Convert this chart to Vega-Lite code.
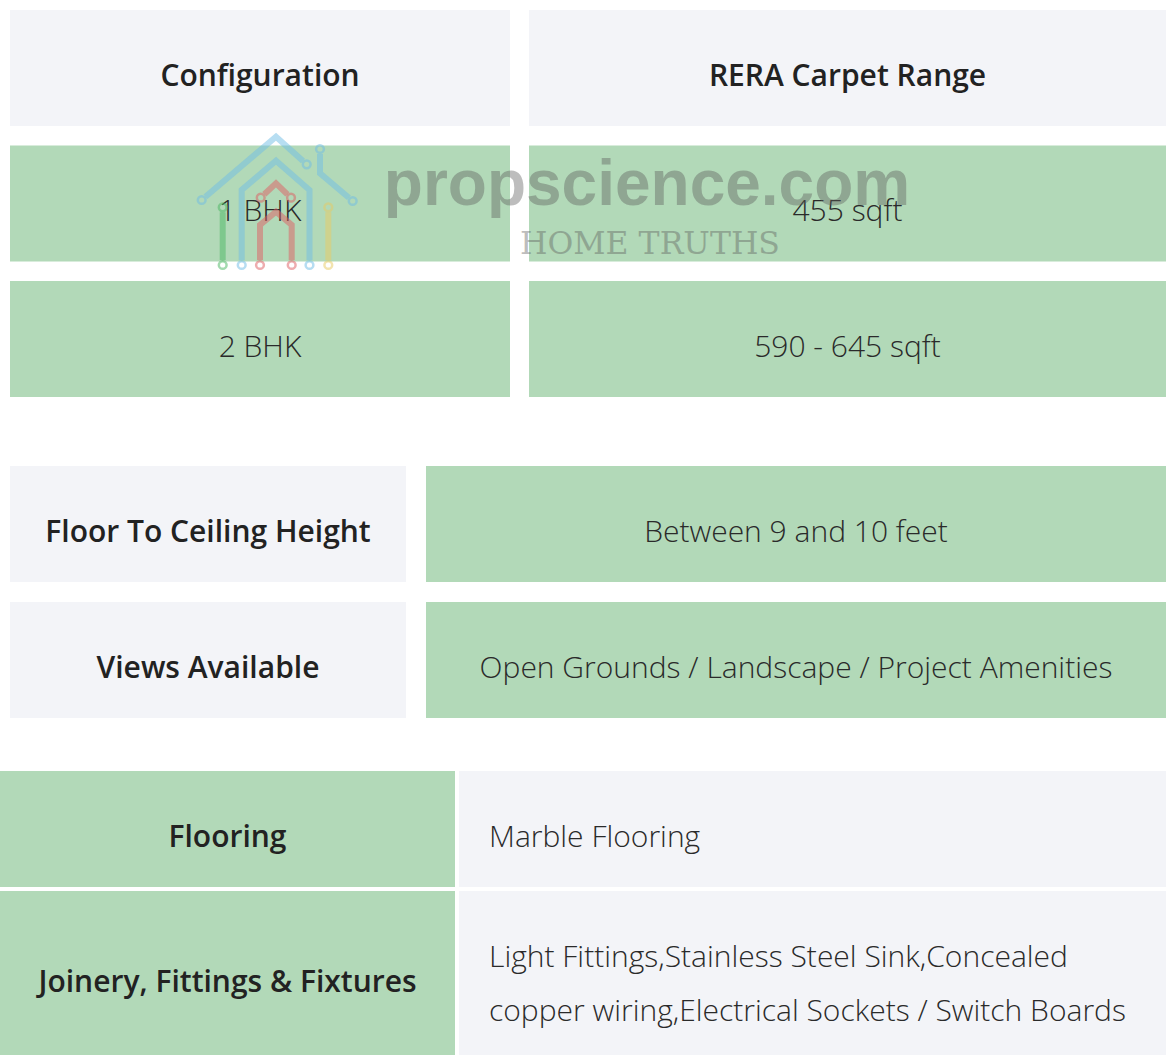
{
  "$schema": "https://vega.github.io/schema/vega-lite/v6.json",
  "padding": 0,
  "background": "white",
  "spacing": 0,
  "config": {"view": {"stroke": null}},
  "datasets": {
    "cells": [
      {"b": "s1", "side": "left", "row": "r0", "part": "head", "label": "Configuration"},
      {"b": "s1", "side": "right", "row": "r0", "part": "head", "label": "RERA Carpet Range"},
      {"b": "s1", "side": "left", "row": "r1", "part": "body", "label": "1 BHK"},
      {"b": "s1", "side": "right", "row": "r1", "part": "body", "label": "455 sqft"},
      {"b": "s1", "side": "left", "row": "r2", "part": "body", "label": "2 BHK"},
      {"b": "s1", "side": "right", "row": "r2", "part": "body", "label": "590 - 645 sqft"},
      {"b": "s2", "side": "left", "row": "r0", "part": "head", "label": "Floor To Ceiling Height"},
      {"b": "s2", "side": "right", "row": "r0", "part": "body", "label": "Between 9 and 10 feet"},
      {"b": "s2", "side": "left", "row": "r1", "part": "head", "label": "Views Available"},
      {"b": "s2", "side": "right", "row": "r1", "part": "body", "label": "Open Grounds / Landscape / Project Amenities"},
      {"b": "s3a", "side": "left", "row": "r0", "part": "head", "label": "Flooring"},
      {"b": "s3a", "side": "right", "row": "r0", "part": "body", "label": "Marble Flooring"},
      {"b": "s3b", "side": "left", "row": "r0", "part": "head", "label": "Joinery, Fittings & Fixtures"},
      {"b": "s3b", "side": "right", "row": "r0", "part": "body", "label": "Light Fittings,Stainless Steel Sink,Concealed\ncopper wiring,Electrical Sockets / Switch Boards"}
    ],
    "logoPaths": [
      {"strand": "roof", "k": 0, "u": 205.5, "v": 196.8},
      {"strand": "roof", "k": 1, "u": 276, "v": 136.7},
      {"strand": "roof", "k": 2, "u": 303, "v": 161},
      {"strand": "branch", "k": 0, "u": 320, "v": 154},
      {"strand": "branch", "k": 1, "u": 320, "v": 173.3},
      {"strand": "branch", "k": 2, "u": 348.9, "v": 197.8},
      {"strand": "wall", "k": 0, "u": 241.7, "v": 260},
      {"strand": "wall", "k": 1, "u": 241.7, "v": 190},
      {"strand": "wall", "k": 2, "u": 276, "v": 160.7},
      {"strand": "wall", "k": 3, "u": 309.5, "v": 190},
      {"strand": "wall", "k": 4, "u": 309.5, "v": 260},
      {"strand": "door", "k": 0, "u": 260, "v": 260},
      {"strand": "door", "k": 1, "u": 260, "v": 225},
      {"strand": "door", "k": 2, "u": 276, "v": 211.7},
      {"strand": "door", "k": 3, "u": 291.7, "v": 225},
      {"strand": "door", "k": 4, "u": 291.7, "v": 260},
      {"strand": "gable", "k": 0, "u": 264.3, "v": 194.3},
      {"strand": "gable", "k": 1, "u": 276, "v": 183.3},
      {"strand": "gable", "k": 2, "u": 287.4, "v": 194.3},
      {"strand": "leftpost", "k": 0, "u": 222.7, "v": 212.3},
      {"strand": "leftpost", "k": 1, "u": 222.7, "v": 260},
      {"strand": "rightpost", "k": 0, "u": 328.3, "v": 212.3},
      {"strand": "rightpost", "k": 1, "u": 328.3, "v": 260}
    ],
    "logoRings": [
      {"strand": "roof", "u": 201.7, "v": 200},
      {"strand": "roof", "u": 306.7, "v": 164.3},
      {"strand": "branch", "u": 320, "v": 149},
      {"strand": "branch", "u": 352.7, "v": 201},
      {"strand": "wall", "u": 241.7, "v": 265},
      {"strand": "wall", "u": 309.5, "v": 265},
      {"strand": "door", "u": 260, "v": 265},
      {"strand": "door", "u": 291.7, "v": 265},
      {"strand": "gable", "u": 260.7, "v": 197.7},
      {"strand": "gable", "u": 291, "v": 197.7},
      {"strand": "leftpost", "u": 222.7, "v": 207.3},
      {"strand": "leftpost", "u": 222.7, "v": 265},
      {"strand": "rightpost", "u": 328.3, "v": 207.3},
      {"strand": "rightpost", "u": 328.3, "v": 265}
    ],
    "stamp": [
      {"id": "brand", "label": "propscience.com", "u": 647, "v": 205},
      {"id": "tagline", "label": "HOME TRUTHS", "u": 650, "v": 254}
    ]
  },
  "vconcat": [
    {
      "bounds": "flush",
      "spacing": 19,
      "hconcat": [
        {
          "width": 510,
          "height": 397,
          "data": {"name": "cells"},
          "transform": [{"filter": "datum.b === 's1' && datum.side === 'left'"}],
          "encoding": {
            "x": {"field": "side", "type": "nominal", "axis": null, "scale": {"type": "band", "domain": ["left"], "paddingInner": 0, "paddingOuter": 0.01, "align": 1}},
            "y": {"field": "row", "type": "nominal", "axis": null, "scale": {"type": "band", "domain": ["r0", "r1", "r2"], "paddingInner": 0.1439, "paddingOuter": 0.0369, "align": 1}}
          },
          "layer": [
            {"mark": {"type": "rect"}, "encoding": {"color": {"condition": {"test": "datum.part === 'head'", "value": "#f3f4f8"}, "value": "#b2d9b8"}}},
            {"transform": [{"filter": "datum.part === 'head'"}], "mark": {"type": "text", "font": "Open Sans", "fontSize": 30, "fontWeight": 600, "color": "#222222", "baseline": "alphabetic", "dy": 18}, "encoding": {"text": {"field": "label"}}},
            {"transform": [{"filter": "datum.part === 'body'"}], "mark": {"type": "text", "font": "Open Sans", "fontSize": 30, "fontWeight": 300, "color": "#2a2a2a", "baseline": "alphabetic", "dy": 18}, "encoding": {"text": {"field": "label"}}}
          ]
        },
        {
          "width": 637,
          "height": 397,
          "layer": [
            {
              "data": {"name": "cells"},
              "transform": [{"filter": "datum.b === 's1' && datum.side === 'right'"}],
              "encoding": {
                "x": {"field": "side", "type": "nominal", "axis": null, "scale": {"type": "band", "domain": ["right"], "paddingInner": 0, "paddingOuter": 0}},
                "y": {"field": "row", "type": "nominal", "axis": null, "scale": {"type": "band", "domain": ["r0", "r1", "r2"], "paddingInner": 0.1439, "paddingOuter": 0.0369, "align": 1}}
              },
              "layer": [
                {"mark": {"type": "rect"}, "encoding": {"color": {"condition": {"test": "datum.part === 'head'", "value": "#f3f4f8"}, "value": "#b2d9b8"}}},
                {"transform": [{"filter": "datum.part === 'head'"}], "mark": {"type": "text", "font": "Open Sans", "fontSize": 30, "fontWeight": 600, "color": "#222222", "baseline": "alphabetic", "dy": 18}, "encoding": {"text": {"field": "label"}}},
                {"transform": [{"filter": "datum.part === 'body'"}], "mark": {"type": "text", "font": "Open Sans", "fontSize": 30, "fontWeight": 300, "color": "#2a2a2a", "baseline": "alphabetic", "dy": 18}, "encoding": {"text": {"field": "label"}}}
              ]
            },
            {
              "data": {"name": "logoPaths"},
              "mark": {"type": "line", "strokeWidth": 6, "opacity": 0.5, "strokeCap": "butt", "strokeJoin": "miter"},
              "encoding": {
                "x": {"field": "u", "type": "quantitative", "axis": null, "scale": {"domain": [529, 1166], "nice": false, "zero": false}},
                "y": {"field": "v", "type": "quantitative", "axis": null, "scale": {"domain": [0, 397], "nice": false, "zero": false, "reverse": true}},
                "order": {"field": "k", "type": "quantitative"},
                "color": {"field": "strand", "type": "nominal", "legend": null, "scale": {"domain": ["roof", "branch", "wall", "door", "gable", "leftpost", "rightpost"], "range": ["#6fbde6", "#6fbde6", "#6fbde6", "#df5d61", "#df5d61", "#49b761", "#e9cb61"]}}
              }
            },
            {
              "data": {"name": "logoRings"},
              "mark": {"type": "point", "shape": "circle", "filled": false, "size": 60, "strokeWidth": 2.5, "opacity": 0.5},
              "encoding": {
                "x": {"field": "u", "type": "quantitative", "axis": null, "scale": {"domain": [529, 1166], "nice": false, "zero": false}},
                "y": {"field": "v", "type": "quantitative", "axis": null, "scale": {"domain": [0, 397], "nice": false, "zero": false, "reverse": true}},
                "color": {"field": "strand", "type": "nominal", "legend": null, "scale": {"domain": ["roof", "branch", "wall", "door", "gable", "leftpost", "rightpost"], "range": ["#6fbde6", "#6fbde6", "#6fbde6", "#df5d61", "#df5d61", "#49b761", "#e9cb61"]}}
              }
            },
            {
              "data": {"name": "stamp"},
              "transform": [{"filter": "datum.id === 'brand'"}],
              "mark": {"type": "text", "font": "Liberation Sans", "fontSize": 64, "fontWeight": "bold", "color": "#5c5c5c", "opacity": 0.4, "align": "center", "baseline": "alphabetic"},
              "encoding": {
                "x": {"field": "u", "type": "quantitative", "axis": null, "scale": {"domain": [529, 1166], "nice": false, "zero": false}},
                "y": {"field": "v", "type": "quantitative", "axis": null, "scale": {"domain": [0, 397], "nice": false, "zero": false, "reverse": true}},
                "text": {"field": "label"}
              }
            },
            {
              "data": {"name": "stamp"},
              "transform": [{"filter": "datum.id === 'tagline'"}],
              "mark": {"type": "text", "font": "DejaVu Serif", "fontSize": 31.5, "color": "#5c5c5c", "opacity": 0.4, "align": "center", "baseline": "alphabetic"},
              "encoding": {
                "x": {"field": "u", "type": "quantitative", "axis": null, "scale": {"domain": [529, 1166], "nice": false, "zero": false}},
                "y": {"field": "v", "type": "quantitative", "axis": null, "scale": {"domain": [0, 397], "nice": false, "zero": false, "reverse": true}},
                "text": {"field": "label"}
              }
            }
          ],
          "resolve": {"scale": {"x": "independent", "y": "independent", "color": "independent"}}
        }
      ]
    },
    {
      "bounds": "flush",
      "spacing": 20,
      "hconcat": [
        {
          "width": 406,
          "height": 321,
          "data": {"name": "cells"},
          "transform": [{"filter": "datum.b === 's2' && datum.side === 'left'"}],
          "encoding": {
            "x": {"field": "side", "type": "nominal", "axis": null, "scale": {"type": "band", "domain": ["left"], "paddingInner": 0, "paddingOuter": 0.012626, "align": 1}},
            "y": {"field": "row", "type": "nominal", "axis": null, "scale": {"type": "band", "domain": ["r0", "r1"], "paddingInner": 0.14706, "paddingOuter": 0.25368, "align": 1}}
          },
          "layer": [
            {"mark": {"type": "rect", "color": "#f3f4f8"}},
            {"mark": {"type": "text", "font": "Open Sans", "fontSize": 30, "fontWeight": 600, "color": "#222222", "baseline": "alphabetic", "dy": 18}, "encoding": {"text": {"field": "label"}}}
          ]
        },
        {
          "width": 740,
          "height": 321,
          "data": {"name": "cells"},
          "transform": [{"filter": "datum.b === 's2' && datum.side === 'right'"}],
          "encoding": {
            "x": {"field": "side", "type": "nominal", "axis": null, "scale": {"type": "band", "domain": ["right"], "paddingInner": 0, "paddingOuter": 0}},
            "y": {"field": "row", "type": "nominal", "axis": null, "scale": {"type": "band", "domain": ["r0", "r1"], "paddingInner": 0.14706, "paddingOuter": 0.25368, "align": 1}}
          },
          "layer": [
            {"mark": {"type": "rect", "color": "#b2d9b8"}},
            {"mark": {"type": "text", "font": "Open Sans", "fontSize": 30, "fontWeight": 300, "color": "#2a2a2a", "baseline": "alphabetic", "dy": 18}, "encoding": {"text": {"field": "label"}}}
          ]
        }
      ]
    },
    {
      "bounds": "flush",
      "spacing": 4,
      "hconcat": [
        {
          "width": 455,
          "height": 169,
          "data": {"name": "cells"},
          "transform": [{"filter": "datum.b === 's3a' && datum.side === 'left'"}],
          "encoding": {
            "x": {"field": "side", "type": "nominal", "axis": null, "scale": {"type": "band", "domain": ["left"], "paddingInner": 0, "paddingOuter": 0}},
            "y": {"field": "row", "type": "nominal", "axis": null, "scale": {"type": "band", "domain": ["r0"], "paddingInner": 0, "paddingOuter": 0.228448, "align": 1}}
          },
          "layer": [
            {"mark": {"type": "rect", "color": "#b2d9b8"}},
            {"mark": {"type": "text", "font": "Open Sans", "fontSize": 30, "fontWeight": 600, "color": "#222222", "baseline": "alphabetic", "dy": 18}, "encoding": {"text": {"field": "label"}}}
          ]
        },
        {
          "width": 707,
          "height": 169,
          "data": {"name": "cells"},
          "transform": [{"filter": "datum.b === 's3a' && datum.side === 'right'"}],
          "encoding": {
            "x": {"field": "side", "type": "nominal", "axis": null, "bandPosition": 0, "scale": {"type": "band", "domain": ["right"], "paddingInner": 0, "paddingOuter": 0}},
            "y": {"field": "row", "type": "nominal", "axis": null, "scale": {"type": "band", "domain": ["r0"], "paddingInner": 0, "paddingOuter": 0.228448, "align": 1}}
          },
          "layer": [
            {"mark": {"type": "rect", "color": "#f3f4f8"}},
            {"mark": {"type": "text", "font": "Open Sans", "fontSize": 30, "fontWeight": 300, "color": "#2a2a2a", "align": "left", "baseline": "alphabetic", "dx": 30, "dy": 18}, "encoding": {"text": {"field": "label"}}}
          ]
        }
      ]
    },
    {
      "bounds": "flush",
      "spacing": 4,
      "hconcat": [
        {
          "width": 455,
          "height": 168,
          "data": {"name": "cells"},
          "transform": [{"filter": "datum.b === 's3b' && datum.side === 'left'"}],
          "encoding": {
            "x": {"field": "side", "type": "nominal", "axis": null, "scale": {"type": "band", "domain": ["left"], "paddingInner": 0, "paddingOuter": 0}},
            "y": {"field": "row", "type": "nominal", "axis": null, "scale": {"type": "band", "domain": ["r0"], "paddingInner": 0, "paddingOuter": 0.012195, "align": 1}}
          },
          "layer": [
            {"mark": {"type": "rect", "color": "#b2d9b8"}},
            {"mark": {"type": "text", "font": "Open Sans", "fontSize": 30, "fontWeight": 600, "color": "#222222", "baseline": "alphabetic", "dy": 19}, "encoding": {"text": {"field": "label"}}}
          ]
        },
        {
          "width": 707,
          "height": 168,
          "data": {"name": "cells"},
          "transform": [{"filter": "datum.b === 's3b' && datum.side === 'right'"}],
          "encoding": {
            "x": {"field": "side", "type": "nominal", "axis": null, "bandPosition": 0, "scale": {"type": "band", "domain": ["right"], "paddingInner": 0, "paddingOuter": 0}},
            "y": {"field": "row", "type": "nominal", "axis": null, "scale": {"type": "band", "domain": ["r0"], "paddingInner": 0, "paddingOuter": 0.012195, "align": 1}}
          },
          "layer": [
            {"mark": {"type": "rect", "color": "#f3f4f8"}},
            {"mark": {"type": "text", "font": "Open Sans", "fontSize": 30, "fontWeight": 300, "color": "#2a2a2a", "align": "left", "baseline": "alphabetic", "dx": 30, "dy": -6, "lineBreak": "\n", "lineHeight": 54}, "encoding": {"text": {"field": "label"}}}
          ]
        }
      ]
    }
  ]
}
